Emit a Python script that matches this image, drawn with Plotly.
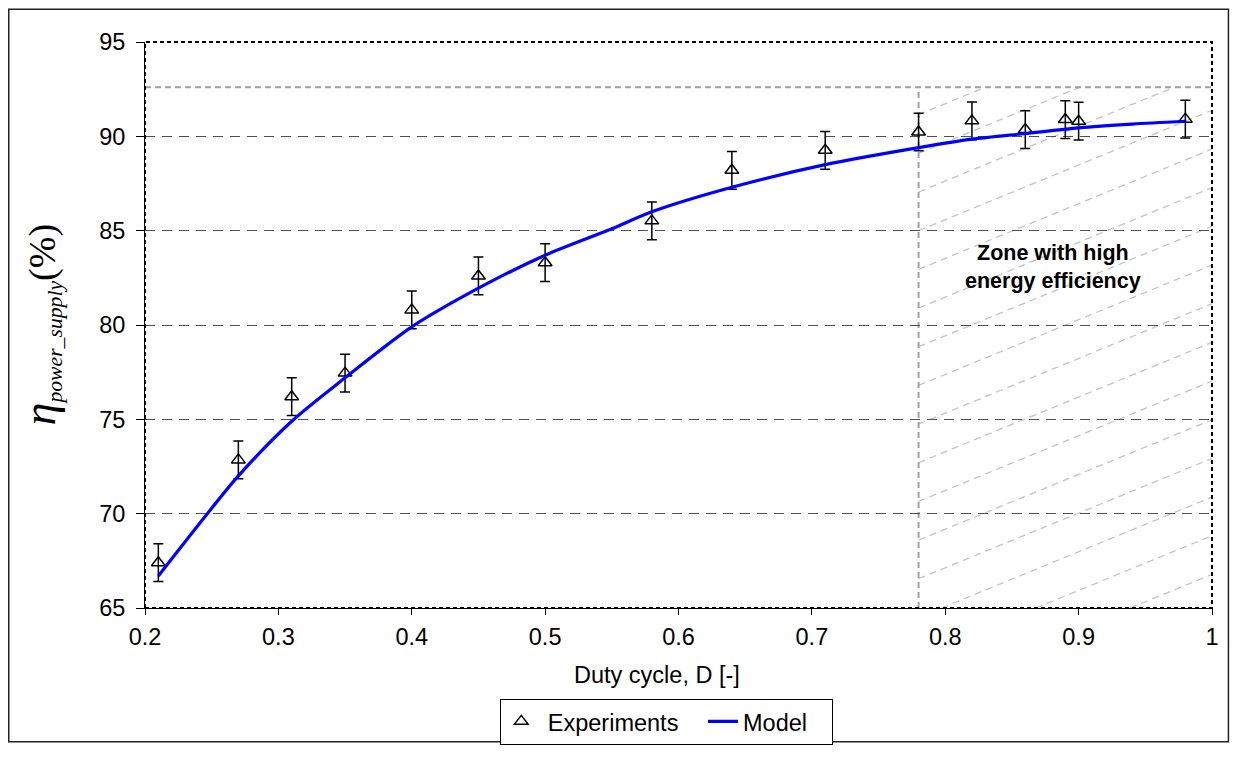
import plotly.graph_objects as go

# ---------------- data ----------------
exp_duty = [0.21, 0.27, 0.31, 0.35, 0.40, 0.45, 0.50, 0.58, 0.64, 0.71, 0.78, 0.82, 0.86, 0.89, 0.90, 0.98]
exp_eff = [67.4, 72.85, 76.2, 77.45, 80.8, 82.6, 83.3, 85.52, 88.2, 89.26, 90.23, 90.82, 90.36, 90.89, 90.8, 90.91]
exp_err = [1.0] * len(exp_duty)

model_duty = [0.21, 0.24, 0.27, 0.31, 0.35, 0.40, 0.45, 0.50, 0.55, 0.58, 0.64, 0.71, 0.78, 0.82, 0.86, 0.90, 0.94, 0.98]
model_eff = [66.7, 69.4, 72.0, 74.9, 77.2, 79.9, 81.95, 83.7, 85.1, 86.0, 87.3, 88.5, 89.4, 89.85, 90.15, 90.45, 90.65, 90.8]

x_ticks = [0.2, 0.3, 0.4, 0.5, 0.6, 0.7, 0.8, 0.9, 1.0]
x_tick_labels = ["0.2", "0.3", "0.4", "0.5", "0.6", "0.7", "0.8", "0.9", "1"]
y_ticks = [65, 70, 75, 80, 85, 90, 95]

zone_x0 = 0.78
zone_top = 92.6
x_range = [0.2, 1.0]
y_range = [65, 95]

FONT = "Liberation Sans, Arial, sans-serif"
SERIF = "Liberation Serif, Times New Roman, serif"
NB = "\u00a0"

fig = go.Figure()

fig.add_trace(go.Scatter(
    x=exp_duty, y=exp_eff, mode="markers", name=NB + "Experiments" + NB * 3,
    marker=dict(symbol="triangle-up-open", size=12, color="black", line=dict(color="black", width=1.5)),
    error_y=dict(type="data", array=exp_err, visible=True, color="black", thickness=1.5, width=5),
))
fig.add_trace(go.Scatter(
    x=model_duty, y=model_eff, mode="lines", name="Model" + NB * 3,
    line=dict(color="#0000ff", width=3.2, shape="spline", smoothing=0.8),
))

shapes = []
# hatch lines in the high efficiency zone
hatch_slope = 29.0
hatch_start = 66.55
hatch_step = 2.05
k = -4
while True:
    c = hatch_start + k * hatch_step
    if c > zone_top:
        break
    xs = max(zone_x0, zone_x0 + (y_range[0] - c) / hatch_slope)
    xe = min(x_range[1], zone_x0 + (zone_top - c) / hatch_slope)
    if xs < xe:
        shapes.append(dict(type="line", xref="x", yref="y",
                           x0=xs, y0=c + hatch_slope * (xs - zone_x0),
                           x1=xe, y1=c + hatch_slope * (xe - zone_x0),
                           line=dict(color="#c4c4c4", width=1.3, dash="7px,5px"), layer="below"))
    k += 1

# zone boundaries
shapes.append(dict(type="line", xref="x", yref="y", x0=x_range[0], x1=x_range[1], y0=zone_top, y1=zone_top,
                   line=dict(color="#a0a0a0", width=2, dash="6px,4px"), layer="below"))
shapes.append(dict(type="line", xref="x", yref="y", x0=zone_x0, x1=zone_x0, y0=y_range[0], y1=zone_top,
                   line=dict(color="#a0a0a0", width=2, dash="6px,4px"), layer="below"))
# plot-area border (dotted)
shapes.append(dict(type="rect", xref="paper", yref="paper", x0=0, x1=1, y0=0, y1=1,
                   line=dict(color="black", width=2, dash="4px,3px")))
# outer frame
shapes.append(dict(type="rect", xref="paper", yref="paper", x0=-0.1277, x1=1.0154, y0=-0.2362, y1=1.058,
                   line=dict(color="#222222", width=1.5)))

annotations = [
    dict(x=0.881, y=83.1, xref="x", yref="y", text="<b>Zone with high<br>energy efficiency</b>",
         showarrow=False, font=dict(family=FONT, size=21.5, color="black"), align="center"),
    dict(x=0.48, y=-0.1176, xref="paper", yref="paper", text="Duty cycle, D [-]", showarrow=False,
         font=dict(family=FONT, size=23.5, color="black"), xanchor="center", yanchor="middle"),
    dict(x=-0.098, y=0.5, xref="paper", yref="paper", textangle=-90,
         text='<i><span style="font-size:46px">η</span><sub>power_supply</sub></i><span style="font-size:38px">(%)</span>',
         showarrow=False, font=dict(family=SERIF, size=31, color="black"), xanchor="center", yanchor="middle"),
]

fig.update_layout(
    width=1223, height=749,
    margin=dict(l=137, r=17, t=34, b=137),
    paper_bgcolor="white", plot_bgcolor="white",
    font=dict(family=FONT, size=23.5, color="black"),
    showlegend=True,
    legend=dict(orientation="h", x=0.489, y=-0.2007, xanchor="center", yanchor="middle",
                bordercolor="black", borderwidth=1, bgcolor="white",
                font=dict(family=FONT, size=23.5, color="black")),
    shapes=shapes,
    annotations=annotations,
)
fig.update_xaxes(range=x_range, tickvals=x_ticks, ticktext=x_tick_labels, showgrid=False, zeroline=False,
                 showline=True, linecolor="black", linewidth=1, ticks="outside", ticklen=6, tickcolor="black",
                 tickfont=dict(family=FONT, size=23.5), ticklabelstandoff=2)
fig.update_yaxes(range=y_range, tickvals=y_ticks, showgrid=True, gridcolor="#505050", gridwidth=1,
                 griddash="10px,7px", zeroline=False,
                 showline=True, linecolor="black", linewidth=1, ticks="outside", ticklen=8, tickcolor="black",
                 tickfont=dict(family=FONT, size=23.5), ticklabelstandoff=6)

fig.write_html("out.html")
